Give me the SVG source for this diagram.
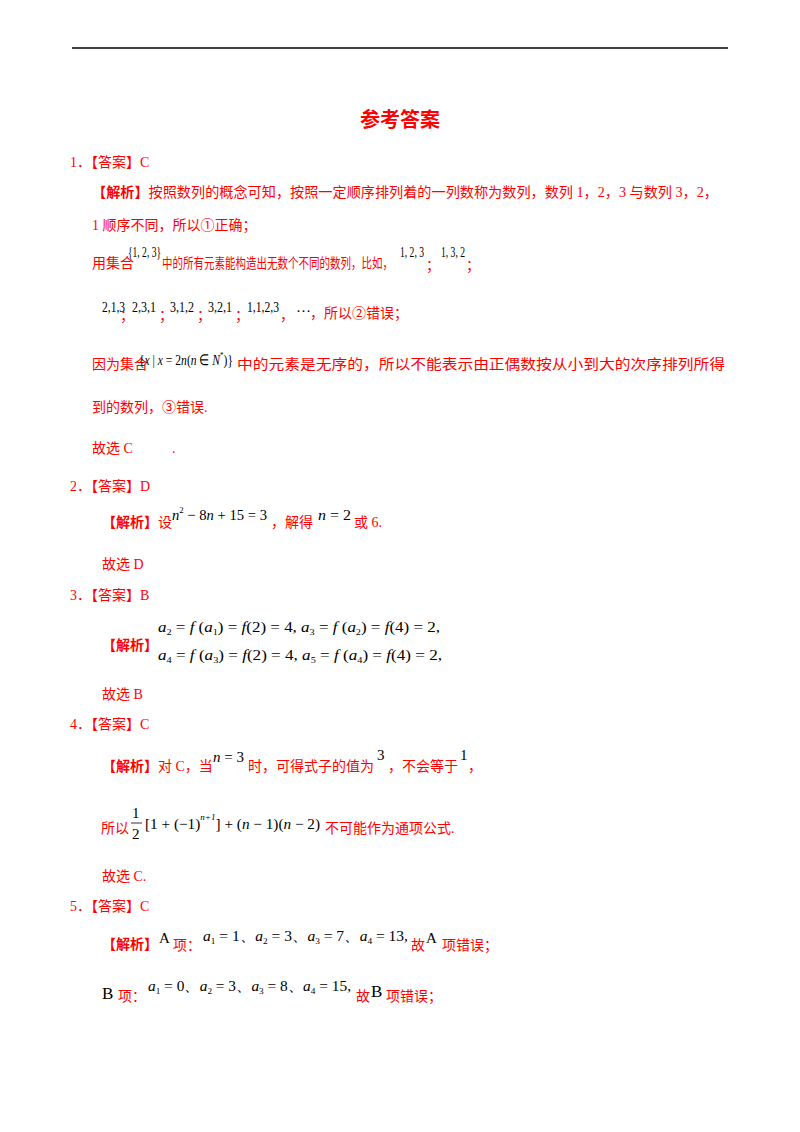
<svg xmlns="http://www.w3.org/2000/svg" width="800" height="1132" viewBox="0 0 800 1132">
<style>
.t{font-family:"Liberation Serif","Noto Sans CJK SC",serif;font-size:14px;fill:#ff0000}
.b{font-weight:bold}
.m{font-family:"Liberation Serif",serif;font-size:15px;fill:#000}
.i{font-style:italic}
.s{font-size:9px}
</style>
<rect width="800" height="1132" fill="#fff"/>
<line x1="72" y1="48" x2="728" y2="48" stroke="#000" stroke-width="1.5"/>
<text x="400" y="127" text-anchor="middle" class="t b" style="font-size:20px">参考答案</text>

<text x="70" y="167" class="t">1．【答案】C</text>
<text x="92" y="197" class="t" textLength="626" lengthAdjust="spacingAndGlyphs"><tspan class="b">【解析】</tspan>按照数列的概念可知，按照一定顺序排列着的一列数称为数列，数列 1，2，3 与数列 3，2，</text>
<text x="92" y="230" class="t">1 顺序不同，所以①正确；</text>
<text x="92" y="268" class="t">用集合</text>
<text x="128" y="257" class="m" textLength="33" lengthAdjust="spacingAndGlyphs">{1, 2, 3}</text>
<text x="162" y="268" class="t" textLength="231" lengthAdjust="spacingAndGlyphs">中的所有元素能构造出无数个不同的数列，比如，</text>
<text x="400" y="257" class="m" textLength="24" lengthAdjust="spacingAndGlyphs">1, 2, 3</text><text x="426" y="270" class="t">；</text>
<text x="441" y="257" class="m" textLength="24" lengthAdjust="spacingAndGlyphs">1, 3, 2</text><text x="466" y="270" class="t">；</text>
<text x="102" y="312" class="m" textLength="23" lengthAdjust="spacingAndGlyphs">2,1,3</text><text x="120" y="320" class="t">；</text>
<text x="132" y="312" class="m" textLength="24" lengthAdjust="spacingAndGlyphs">2,3,1</text><text x="159" y="320" class="t">；</text>
<text x="170" y="312" class="m" textLength="24" lengthAdjust="spacingAndGlyphs">3,1,2</text><text x="197" y="320" class="t">；</text>
<text x="208" y="312" class="m" textLength="24" lengthAdjust="spacingAndGlyphs">3,2,1</text><text x="235" y="320" class="t">；</text>
<text x="247" y="312" class="m" textLength="32" lengthAdjust="spacingAndGlyphs">1,1,2,3</text><text x="280" y="320" class="t">，</text>
<text x="296" y="312" class="m">…</text>
<text x="310" y="318" class="t">，所以②错误；</text>
<text x="92" y="369" class="t">因为集合</text>
<text x="139" y="365" class="m" textLength="94" lengthAdjust="spacingAndGlyphs"><tspan>{</tspan><tspan class="i">x</tspan> | <tspan class="i">x</tspan> = 2<tspan class="i">n</tspan>(<tspan class="i">n</tspan> ∈ <tspan class="i">N</tspan><tspan class="s" dy="-7">*</tspan><tspan dy="7">)}</tspan></text>
<text x="237" y="369" class="t" textLength="488" lengthAdjust="spacingAndGlyphs">中的元素是无序的，所以不能表示由正偶数按从小到大的次序排列所得</text>
<text x="92" y="412" class="t">到的数列，③错误.</text>
<text x="92" y="453" class="t">故选 C</text><text x="172" y="453" class="t">.</text>

<text x="70" y="491" class="t">2．【答案】D</text>
<text x="102" y="527" class="t"><tspan class="b">【解析】</tspan>设</text>
<text x="172" y="520" class="m" textLength="95" lengthAdjust="spacingAndGlyphs"><tspan class="i">n</tspan><tspan class="s" dy="-7">2</tspan><tspan dy="7"> − 8</tspan><tspan class="i">n</tspan> + 15 = 3</text>
<text x="271" y="527" class="t">，解得</text>
<text x="318" y="520" class="m" textLength="33" lengthAdjust="spacingAndGlyphs"><tspan class="i">n</tspan> = 2</text>
<text x="354" y="527" class="t">或 6.</text>
<text x="102" y="569" class="t">故选 D</text>

<text x="70" y="600" class="t">3．【答案】B</text>
<text x="102" y="650" class="t b">【解析】</text>
<text x="158" y="632" class="m" textLength="282" lengthAdjust="spacingAndGlyphs"><tspan class="i">a</tspan><tspan class="s" dy="3">2</tspan><tspan dy="-3"> = </tspan><tspan class="i">f</tspan> (<tspan class="i">a</tspan><tspan class="s" dy="3">1</tspan><tspan dy="-3">) = </tspan><tspan class="i">f</tspan>(2) = 4, <tspan class="i">a</tspan><tspan class="s" dy="3">3</tspan><tspan dy="-3"> = </tspan><tspan class="i">f</tspan> (<tspan class="i">a</tspan><tspan class="s" dy="3">2</tspan><tspan dy="-3">) = </tspan><tspan class="i">f</tspan>(4) = 2,</text>
<text x="158" y="660" class="m" textLength="284" lengthAdjust="spacingAndGlyphs"><tspan class="i">a</tspan><tspan class="s" dy="3">4</tspan><tspan dy="-3"> = </tspan><tspan class="i">f</tspan> (<tspan class="i">a</tspan><tspan class="s" dy="3">3</tspan><tspan dy="-3">) = </tspan><tspan class="i">f</tspan>(2) = 4, <tspan class="i">a</tspan><tspan class="s" dy="3">5</tspan><tspan dy="-3"> = </tspan><tspan class="i">f</tspan> (<tspan class="i">a</tspan><tspan class="s" dy="3">4</tspan><tspan dy="-3">) = </tspan><tspan class="i">f</tspan>(4) = 2,</text>
<text x="102" y="699" class="t">故选 B</text>

<text x="70" y="729" class="t">4．【答案】C</text>
<text x="102" y="771" class="t"><tspan class="b">【解析】</tspan>对 C，当</text>
<text x="213" y="762" class="m"><tspan class="i">n</tspan> = 3</text>
<text x="248" y="771" class="t">时，可得式子的值为</text>
<text x="377" y="760" class="m">3</text>
<text x="388" y="771" class="t">，不会等于</text>
<text x="460" y="760" class="m">1</text>
<text x="468" y="771" class="t">，</text>
<text x="101" y="833" class="t">所以</text>
<text x="132" y="818" class="m">1</text>
<line x1="131" y1="823" x2="142" y2="823" stroke="#000" stroke-width="0.8"/>
<text x="132" y="839" class="m">2</text>
<text x="145" y="829" class="m" textLength="175" lengthAdjust="spacingAndGlyphs">[1 + (−1)<tspan class="s i" dy="-9">n+1</tspan><tspan dy="9">] + (</tspan><tspan class="i">n</tspan> − 1)(<tspan class="i">n</tspan> − 2)</text>
<text x="325" y="833" class="t">不可能作为通项公式.</text>
<text x="102" y="881" class="t">故选 C.</text>

<text x="70" y="911" class="t">5．【答案】C</text>
<text x="102" y="949" class="t"><tspan class="b">【解析】</tspan></text>
<text x="159" y="943" class="m">A</text><text x="173" y="950" class="t">项：</text>
<text x="203" y="941" class="m" textLength="205" lengthAdjust="spacingAndGlyphs"><tspan class="i">a</tspan><tspan class="s" dy="3">1</tspan><tspan dy="-3"> = 1、</tspan><tspan class="i">a</tspan><tspan class="s" dy="3">2</tspan><tspan dy="-3"> = 3、</tspan><tspan class="i">a</tspan><tspan class="s" dy="3">3</tspan><tspan dy="-3"> = 7、</tspan><tspan class="i">a</tspan><tspan class="s" dy="3">4</tspan><tspan dy="-3"> = 13,</tspan></text>
<text x="411" y="950" class="t">故</text><text x="426" y="943" class="m">A</text><text x="442" y="950" class="t">项错误；</text>
<text x="102" y="999" class="m" style="font-size:17px">B</text><text x="118" y="1001" class="t">项：</text>
<text x="148" y="991" class="m" textLength="203" lengthAdjust="spacingAndGlyphs"><tspan class="i">a</tspan><tspan class="s" dy="3">1</tspan><tspan dy="-3"> = 0、</tspan><tspan class="i">a</tspan><tspan class="s" dy="3">2</tspan><tspan dy="-3"> = 3、</tspan><tspan class="i">a</tspan><tspan class="s" dy="3">3</tspan><tspan dy="-3"> = 8、</tspan><tspan class="i">a</tspan><tspan class="s" dy="3">4</tspan><tspan dy="-3"> = 15,</tspan></text>
<text x="356" y="1001" class="t">故</text><text x="371" y="997" class="m" style="font-size:17px">B</text><text x="386" y="1001" class="t">项错误；</text>
</svg>
